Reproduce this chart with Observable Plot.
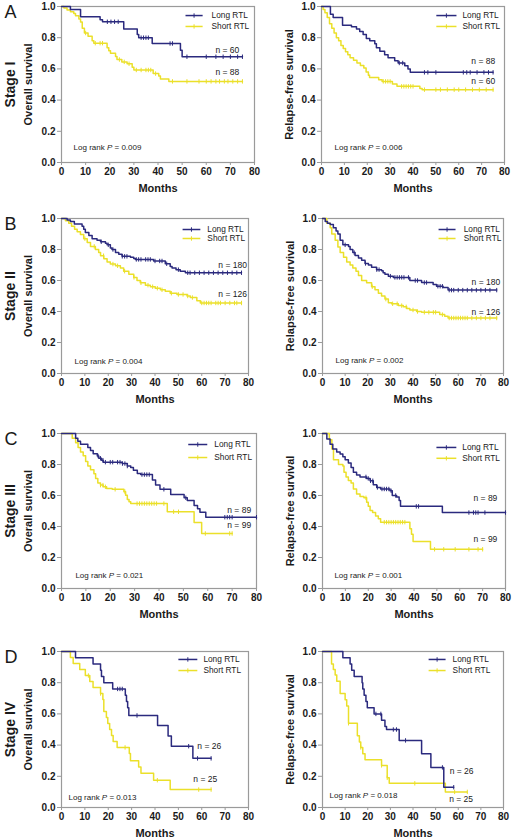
<!DOCTYPE html>
<html>
<head>
<meta charset="utf-8">
<script src="https://cdn.jsdelivr.net/npm/d3@7"></script>
<script src="https://cdn.jsdelivr.net/npm/@observablehq/plot@0.6"></script>
<style>
  html, body { margin: 0; padding: 0; background: #fff; }
  #root { position: relative; width: 513px; height: 838px; background: #fff; overflow: hidden; }
  #root svg { position: absolute; }
</style>
</head>
<body>
<div id="root"></div>
<script>
// ---------- DATA (step points [month, survival]) and censor times ----------
const os1Long = [[0,1],[3.7,0.98],[7.9,0.935],[16,0.915],[17,0.902],[25.8,0.855],[31.4,0.82],[32,0.80],[37.6,0.763],[49.3,0.72],[50,0.678],[75,0.678]];
const os1LongCens = [19,20.5,22,23.5,33,34,35,36,45,46,52,60,64,67,70,73,75];
const os1Short = [[0,1],[1,0.99],[2.3,0.977],[3.7,0.966],[5.1,0.955],[5.8,0.94],[7.2,0.92],[7.9,0.9],[8.6,0.86],[9.5,0.83],[11,0.81],[12.7,0.78],[13.4,0.765],[18.9,0.735],[19.6,0.717],[20.3,0.70],[22.4,0.68],[23,0.66],[25,0.645],[27.2,0.633],[29.3,0.61],[30,0.593],[38,0.57],[40.3,0.555],[41,0.535],[44.5,0.52],[75,0.52]];
const os1ShortCens = [10,14,16,17,24,26,28,31,33,35,36,37,39,46,52,57,60,62,64,65.5,67.5,69,71,73,75];

const rfs1Long = [[0,1],[3.9,0.95],[5.1,0.93],[9.2,0.88],[13.1,0.87],[15.3,0.855],[16.7,0.84],[18.2,0.82],[19.6,0.795],[21.1,0.78],[23.3,0.762],[24,0.735],[25.5,0.713],[27.6,0.69],[29.1,0.672],[32,0.652],[33.5,0.638],[36.4,0.62],[37.8,0.60],[38.8,0.578],[75,0.578]];
const rfs1LongCens = [34,35.5,45,46.5,50,62,63.5,65,68,71,73,75];
const rfs1Short = [[0,1],[0.7,0.98],[1.5,0.96],[2.5,0.93],[3.5,0.89],[4.5,0.86],[5.5,0.83],[6.5,0.80],[7.5,0.78],[8.5,0.75],[9.5,0.73],[10.5,0.71],[11.5,0.69],[12.5,0.672],[14,0.655],[15.5,0.638],[17,0.622],[18.5,0.605],[19.5,0.58],[20.5,0.56],[21,0.545],[25,0.53],[26.5,0.52],[31,0.503],[33,0.488],[43,0.475],[44,0.467],[75,0.467]];
const rfs1ShortCens = [27,28,29,30,35,36,37,38,39,40,45,50,52,55,58,60,63,66,69,72,75];

const os2Long = [[0,1],[2.4,0.99],[3.8,0.98],[5.5,0.965],[8.8,0.95],[9.5,0.93],[10.2,0.91],[11.7,0.89],[13.1,0.87],[15.2,0.86],[16.7,0.85],[18.8,0.84],[19.5,0.83],[20.9,0.81],[21.6,0.80],[23.1,0.78],[24.5,0.77],[25.9,0.756],[29.5,0.75],[30.9,0.742],[31.6,0.736],[39.4,0.726],[44.4,0.708],[46.5,0.69],[47.3,0.68],[49,0.67],[50.8,0.66],[53,0.65],[77,0.65]];
const os2LongCens = [17,20,22,26,27,28,32,33,34,36,37,38,40,42,43,45,50,54,55,57,59,61,63,65,67,69,71,73,75,77];
const os2Short = [[0,1],[1.7,0.985],[3.1,0.97],[4.3,0.95],[5.6,0.93],[6.7,0.915],[8.1,0.896],[9.5,0.87],[11,0.845],[12.4,0.82],[14.5,0.80],[15.9,0.78],[16.7,0.76],[18.1,0.74],[19.5,0.72],[20.9,0.706],[23.1,0.695],[25.2,0.68],[26.6,0.66],[28.8,0.64],[30.9,0.62],[32.3,0.60],[33.7,0.585],[35.9,0.57],[38,0.56],[40.1,0.55],[42.3,0.54],[44.4,0.53],[46.5,0.518],[49.4,0.51],[53.7,0.50],[55.1,0.49],[57.9,0.47],[59.4,0.455],[77,0.455]];
const os2ShortCens = [10,14,18,22,24,27,31,34,37,39,41,43,47,50,52,54,56,60,61,62,63,64,66,67,68,70,72,74,75,77];

const rfs2Long = [[0,1],[1.2,0.98],[2.2,0.97],[3.4,0.961],[4.8,0.94],[6,0.92],[6.8,0.90],[7.8,0.86],[9,0.83],[11.5,0.82],[12.2,0.80],[13.4,0.78],[14.4,0.762],[15.9,0.745],[17.3,0.73],[18.8,0.71],[20.3,0.70],[21.7,0.685],[23.9,0.67],[26.1,0.663],[26.8,0.65],[27.6,0.64],[29.1,0.628],[31.3,0.62],[38.6,0.60],[43.8,0.587],[48.9,0.575],[50.4,0.563],[53.3,0.555],[55.5,0.538],[77,0.538]];
const rfs2LongCens = [10,14,19,24,25,30,32,33,34,35,36,38,41,42,45,46,51,52,53,56,57,58,60,62,64,66,68,70,72,74,77];
const rfs2Short = [[0,1],[1.9,0.97],[3.4,0.94],[4.1,0.90],[5.6,0.86],[6.8,0.816],[7.8,0.78],[9.3,0.75],[10.7,0.72],[12.2,0.70],[13.4,0.68],[14.8,0.66],[15.9,0.633],[17.3,0.60],[19.5,0.585],[21.7,0.56],[23.2,0.54],[24.7,0.518],[26.1,0.50],[27.6,0.48],[29.1,0.456],[30.5,0.45],[33.5,0.438],[35.7,0.43],[37.2,0.42],[38.6,0.41],[41.6,0.40],[43.8,0.395],[51.8,0.38],[54,0.37],[55.5,0.358],[77,0.358]];
const rfs2ShortCens = [22,28,31,33,35,37,40,42,45,47,49,50,53,56,57,58,59,60,61,62,63,64,66,68,70,72,74,77];

const os3Long = [[0,1],[5.8,0.97],[6.7,0.95],[7.8,0.93],[10.8,0.91],[11.9,0.89],[13,0.87],[14.7,0.855],[15.3,0.84],[16.4,0.828],[17.1,0.815],[24.9,0.806],[27,0.79],[28.4,0.78],[29.5,0.763],[31.1,0.742],[32.5,0.735],[37.3,0.70],[38.6,0.667],[40.4,0.64],[44.8,0.606],[50.3,0.585],[51.6,0.568],[54.4,0.535],[55.8,0.515],[56.8,0.492],[59.2,0.46],[80,0.46]];
const os3LongCens = [15,16,17,18,20,21,23,24,25,26,27,33,34,35,36,42,51,67,68,69,70,80];
const os3Short = [[0,1],[4.4,0.97],[5.8,0.94],[6.8,0.91],[7.8,0.88],[8.9,0.856],[9.9,0.82],[10.8,0.79],[11.9,0.766],[13.3,0.74],[14,0.71],[14.9,0.68],[16,0.667],[17.1,0.656],[18.5,0.645],[20.8,0.64],[25.6,0.625],[26.3,0.602],[27,0.575],[27.7,0.56],[28.4,0.548],[43.4,0.495],[54.4,0.426],[57.5,0.355],[70,0.355]];
const os3ShortCens = [16,17,18,22,26,31,32,33,34,35,36,37,38,39,42,46,48,59,69,70];

const rfs3Long = [[0,1],[1.9,0.964],[3.3,0.93],[4.5,0.90],[6.2,0.88],[7.7,0.867],[8.9,0.85],[9.9,0.83],[11.3,0.81],[12.5,0.78],[13.5,0.75],[14.9,0.732],[16.4,0.72],[19.3,0.71],[20.8,0.695],[22.2,0.67],[23.7,0.652],[25.4,0.642],[29.5,0.63],[30.5,0.60],[32.4,0.59],[33.5,0.567],[34.1,0.53],[52.4,0.49],[80,0.49]];
const rfs3LongCens = [19,20,21,22,24,26,27,28,29,30,32,41,42,64,66,67,68,71,80];
const rfs3Short = [[0,1],[3,0.96],[4.1,0.90],[4.8,0.83],[7,0.80],[8.9,0.79],[9.4,0.75],[10.3,0.72],[11.3,0.696],[12.5,0.68],[13.5,0.642],[14.9,0.61],[16.4,0.593],[18.1,0.585],[19.3,0.557],[20,0.53],[20.8,0.503],[21.9,0.49],[23.2,0.467],[24.4,0.45],[25.4,0.428],[38.2,0.385],[38.9,0.35],[39.6,0.304],[47.2,0.253],[70,0.253]];
const rfs3ShortCens = [19,27,28,29,30,31,32,33,34,35,36,49,53,58,64,68,70];

const os4Long = [[0,1],[6,0.96],[13.5,0.92],[16.7,0.88],[17.1,0.84],[18.1,0.80],[21.9,0.76],[27.3,0.72],[27.8,0.68],[28.3,0.64],[28.8,0.59],[41.1,0.525],[45.6,0.458],[47,0.393],[56.2,0.315],[64,0.315]];
const os4LongCens = [24,25,26,32.3,54.4,58.2,64];
const os4Short = [[0,1],[3.8,0.962],[5,0.923],[7.8,0.885],[10.2,0.846],[12.1,0.808],[13.5,0.77],[16.7,0.731],[17.7,0.692],[18.1,0.615],[19.2,0.577],[19.8,0.538],[20.6,0.50],[21.4,0.462],[22.1,0.423],[23.8,0.385],[29,0.346],[29.5,0.30],[33,0.26],[34,0.22],[39.4,0.175],[46.5,0.115],[64,0.115]];
const os4ShortCens = [11.5,16.7,27.2,41,58.7,64];

const rfs4Long = [[0,1],[9,0.96],[12.2,0.92],[12.9,0.88],[14,0.84],[17.5,0.80],[17.8,0.76],[18.4,0.72],[19.2,0.68],[19.8,0.64],[22.8,0.60],[26.1,0.56],[27.6,0.52],[28.3,0.50],[33.9,0.43],[43.8,0.345],[47.9,0.257],[53.6,0.13],[58,0.13]];
const rfs4LongCens = [23.6,25.8,31.3,32.7,36.7,53,58];
const rfs4Short = [[0,1],[4,0.92],[4.8,0.885],[5.6,0.85],[6.3,0.81],[7.8,0.73],[10,0.69],[10.7,0.65],[11.5,0.54],[15.4,0.46],[16.3,0.42],[16.9,0.385],[17.8,0.345],[18.8,0.306],[26.1,0.27],[28.6,0.19],[29.5,0.155],[54.3,0.10],[64,0.10]];
const rfs4ShortCens = [11.5,16.9,26.1,28.6,40.8,58.4,64];

const xTicks = [0,10,20,30,40,50,60,70,80];
const yTicks = [0,0.2,0.4,0.6,0.8,1.0];
const seriesNames = ["Long RTL", "Short RTL"];

const panels = [
  {letter:"A", stage:"Stage I",  ylab:"Overall survival",      long:os1Long,  longC:os1LongCens,  short:os1Short,  shortC:os1ShortCens,  nLong:"n = 60",  nShort:"n = 88",  p:"0.009"},
  {letter:null, stage:null,      ylab:"Relapse-free survival", long:rfs1Long, longC:rfs1LongCens, short:rfs1Short, shortC:rfs1ShortCens, nLong:"n = 88",  nShort:"n = 60",  p:"0.006"},
  {letter:"B", stage:"Stage II", ylab:"Overall survival",      long:os2Long,  longC:os2LongCens,  short:os2Short,  shortC:os2ShortCens,  nLong:"n = 180", nShort:"n = 126", p:"0.004"},
  {letter:null, stage:null,      ylab:"Relapse-free survival", long:rfs2Long, longC:rfs2LongCens, short:rfs2Short, shortC:rfs2ShortCens, nLong:"n = 180", nShort:"n = 126", p:"0.002"},
  {letter:"C", stage:"Stage III",ylab:"Overall survival",      long:os3Long,  longC:os3LongCens,  short:os3Short,  shortC:os3ShortCens,  nLong:"n = 89",  nShort:"n = 99",  p:"0.021"},
  {letter:null, stage:null,      ylab:"Relapse-free survival", long:rfs3Long, longC:rfs3LongCens, short:rfs3Short, shortC:rfs3ShortCens, nLong:"n = 89",  nShort:"n = 99",  p:"0.001"},
  {letter:"D", stage:"Stage IV", ylab:"Overall survival",      long:os4Long,  longC:os4LongCens,  short:os4Short,  shortC:os4ShortCens,  nLong:"n = 26",  nShort:"n = 25",  p:"0.013"},
  {letter:null, stage:null,      ylab:"Relapse-free survival", long:rfs4Long, longC:rfs4LongCens, short:rfs4Short, shortC:rfs4ShortCens, nLong:"n = 26",  nShort:"n = 25",  p:"0.018"}
];

// ---------- LAYOUT (pixel frame boxes, annotation anchors in data units) ----------
const layouts = [
  {left:0,   top:0,   w:258, h:205, fl:61,  fr:254, ft:6,   fb:162, leg:{x1:51.4,x2:58.5,tx:62.2,yL:0.942,yS:0.872}, nL:[63.8,0.718], nS:[63.8,0.577], lr:[5,0.096],   yLabDx:-33},
  {left:256, top:0,   w:257, h:205, fl:321, fr:504, ft:6,   fb:162, leg:{x1:50.2,x2:59,  tx:61.6,yL:0.942,yS:0.872}, nL:[65.5,0.647], nS:[65.5,0.519], lr:[5.7,0.096], yLabDx:-32},
  {left:0,   top:205, w:258, h:210, fl:61,  fr:248, ft:218, fb:373, leg:{x1:51.8,x2:59.4,tx:62.4,yL:0.929,yS:0.871}, nL:[67.1,0.697], nS:[67.1,0.51],  lr:[5.6,0.077], yLabDx:-33},
  {left:256, top:205, w:257, h:210, fl:322, fr:503, ft:218, fb:373, leg:{x1:51.3,x2:58.8,tx:62.4,yL:0.929,yS:0.871}, nL:[65.9,0.587], nS:[65.9,0.394], lr:[5.8,0.084], yLabDx:-32},
  {left:0,   top:415, w:258, h:210, fl:61,  fr:256, ft:433, fb:588, leg:{x1:52,  x2:59.8,tx:62.7,yL:0.929,yS:0.845}, nL:[68,0.503],   nS:[68,0.406],   lr:[5.7,0.084], yLabDx:-33},
  {left:256, top:415, w:257, h:210, fl:322, fr:505, ft:433, fb:588, leg:{x1:49.8,x2:58.5,tx:61.1,yL:0.91, yS:0.84},  nL:[66,0.58],    nS:[66,0.32],    lr:[5.2,0.084], yLabDx:-32},
  {left:0,   top:625, w:258, h:213, fl:61,  fr:248, ft:651, fb:807, leg:{x1:50,  x2:58.1,tx:60.7,yL:0.949,yS:0.878}, nL:[58.1,0.393], nS:[56.4,0.179], lr:[3,0.064],   yLabDx:-33},
  {left:256, top:625, w:257, h:213, fl:322, fr:503, ft:651, fb:807, leg:{x1:46.9,x2:54.4,tx:57.5,yL:0.949,yS:0.878}, nL:[56.2,0.231], nS:[56,0.051],   lr:[3.1,0.077], yLabDx:-32}
];

const NAVY = "#2b2a7e";
const YELLOW = "#ebe02a";
const FONT = "'Liberation Sans', Arial, Helvetica, sans-serif";

const tickSymbol = {
  draw(ctx, size) {
    const r = Math.sqrt(size / Math.PI);
    ctx.moveTo(0, -r);
    ctx.lineTo(0, r);
  }
};

function survAt(steps, t) {
  let s = steps[0][1];
  for (const [x, y] of steps) if (x <= t) s = y;
  return s;
}

function makePanel(p, L) {
  const toPts = (steps) => steps.map(([t, s]) => ({t, s}));
  const cens = (steps, ts) => ts.map(t => ({t, s: survAt(steps, t)}));
  const leg = [
    {name: seriesNames[0], y: L.leg.yL, color: NAVY},
    {name: seriesNames[1], y: L.leg.yS, color: YELLOW}
  ];
  const marks = [
    Plot.frame({stroke: "#9a9a9a", strokeWidth: 1.2}),
    Plot.axisX({ticks: xTicks, tickSize: 3, tickPadding: 2, stroke: "#9a9a9a", fill: "#1a1a1a", fontWeight: "bold", fontSize: 10, label: null}),
    Plot.axisY({ticks: yTicks, tickSize: 4, tickPadding: 2, tickFormat: d3.format(".1f"), stroke: "#9a9a9a", fill: "#1a1a1a", fontWeight: "bold", fontSize: 10, label: null}),
    Plot.text([p.ylab], {frameAnchor: "left", dx: L.yLabDx, rotate: -90, textAnchor: "middle", lineAnchor: "middle", fontSize: 11, fontWeight: "bold", fill: "#1a1a1a"}),
    Plot.text(["Months"], {frameAnchor: "bottom", dy: 26, textAnchor: "middle", lineAnchor: "middle", fontSize: 11, fontWeight: "bold", fill: "#1a1a1a"}),
    // curves
    Plot.line(toPts(p.short), {x: "t", y: "s", curve: "step-after", stroke: YELLOW, strokeWidth: 1.5}),
    Plot.dot(cens(p.short, p.shortC), {x: "t", y: "s", symbol: tickSymbol, r: 2.2, stroke: YELLOW, strokeWidth: 1, fill: "none"}),
    Plot.line(toPts(p.long), {x: "t", y: "s", curve: "step-after", stroke: NAVY, strokeWidth: 1.5}),
    Plot.dot(cens(p.long, p.longC), {x: "t", y: "s", symbol: tickSymbol, r: 2.2, stroke: NAVY, strokeWidth: 1, fill: "none"}),
    // legend
    Plot.link(leg, {x1: () => L.leg.x1, x2: () => L.leg.x2, y1: "y", y2: "y", stroke: "color", strokeWidth: 1.5}),
    Plot.dot(leg, {x: () => (L.leg.x1 + L.leg.x2) / 2, y: "y", symbol: tickSymbol, r: 2.2, stroke: "color", strokeWidth: 1}),
    Plot.text(leg, {x: () => L.leg.tx, y: "y", text: "name", textAnchor: "start", fontSize: 8.3, fill: "#1a1a1a"}),
    // n labels
    Plot.text([p.nLong], {x: () => L.nL[0], y: () => L.nL[1], textAnchor: "start", fontSize: 8.5, fill: "#1a1a1a"}),
    Plot.text([p.nShort], {x: () => L.nS[0], y: () => L.nS[1], textAnchor: "start", fontSize: 8.5, fill: "#1a1a1a"}),
    // log rank
    Plot.text(["Log rank P = " + p.p], {x: () => L.lr[0], y: () => L.lr[1], textAnchor: "start", fontSize: 8, fill: "#1a1a1a"})
  ];
  if (p.stage) {
    marks.push(Plot.text([p.stage], {frameAnchor: "left", dx: -(L.fl - L.left - 10), rotate: -90, textAnchor: "middle", lineAnchor: "middle", fontSize: 14, fontWeight: "bold", fill: "#1a1a1a"}));
  }
  if (p.letter) {
    marks.push(Plot.text([p.letter], {frameAnchor: "top-left", dx: -(L.fl - L.left - 4), dy: -1, textAnchor: "start", lineAnchor: "top", fontSize: 18, fill: "#1a1a1a"}));
  }
  const svg = Plot.plot({
    width: L.w,
    height: L.h,
    marginLeft: L.fl - L.left,
    marginRight: L.left + L.w - L.fr,
    marginTop: L.ft - L.top,
    marginBottom: L.top + L.h - L.fb,
    x: {domain: [0, 80]},
    y: {domain: [0, 1]},
    style: {fontFamily: FONT, fontSize: "10px", background: "transparent", overflow: "visible", color: "#1a1a1a"},
    marks
  });
  svg.style.left = L.left + "px";
  svg.style.top = L.top + "px";
  svg.style.maxWidth = "none";
  // italic P in "Log rank P = ..."
  svg.querySelectorAll("text").forEach(el => {
    const s = el.textContent;
    if (s.startsWith("Log rank P")) {
      const rest = s.slice("Log rank P".length);
      el.textContent = "";
      const ns = "http://www.w3.org/2000/svg";
      const a = document.createElementNS(ns, "tspan"); a.textContent = "Log rank ";
      const b = document.createElementNS(ns, "tspan"); b.textContent = "P"; b.setAttribute("font-style", "italic");
      const c = document.createElementNS(ns, "tspan"); c.textContent = rest;
      el.append(a, b, c);
    }
  });
  return svg;
}

const root = document.getElementById("root");
panels.forEach((p, i) => root.appendChild(makePanel(p, layouts[i])));
</script>
</body>
</html>
